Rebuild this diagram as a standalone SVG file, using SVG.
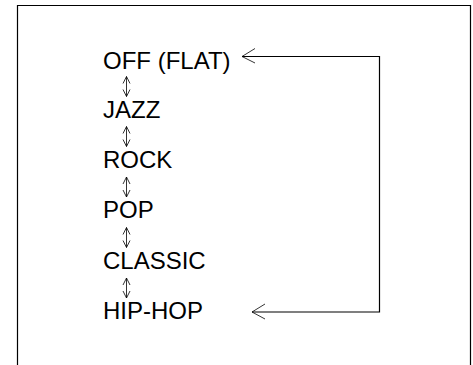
<svg xmlns="http://www.w3.org/2000/svg" width="473" height="365" viewBox="0 0 473 365">
<style>
.lbl{font-family:"Liberation Sans",Arial,sans-serif;font-size:24px;fill:#000}
.ln{fill:none;stroke:#000;stroke-width:1.2}
.da{fill:none;stroke:#000;stroke-width:0.8}
</style>
<defs>
<g id="dbl">
<path class="da" d="M0,0V20M-3.5,7L0,0L3.5,7M-3.5,13L0,20L3.5,13"/>
</g>
</defs>
<rect width="473" height="365" fill="#fff"/>
<path class="ln" d="M17.5,365V5.5H470.5V365"/>
<g id="n-off"><text class="lbl" x="103" y="69">OFF (FLAT)</text></g>
<g id="n-jazz"><text class="lbl" x="103" y="118">JAZZ</text></g>
<g id="n-rock"><text class="lbl" x="103" y="168">ROCK</text></g>
<g id="n-pop"><text class="lbl" x="103" y="218">POP</text></g>
<g id="n-classic"><text class="lbl" x="103" y="269">CLASSIC</text></g>
<g id="n-hiphop"><text class="lbl" x="103" y="319">HIP-HOP</text></g>
<g id="connectors">
<use href="#dbl" x="126.5" y="76.5"/>
<use href="#dbl" x="126.5" y="126.5"/>
<use href="#dbl" x="126.5" y="177"/>
<use href="#dbl" x="126.5" y="227.5"/>
<use href="#dbl" x="126.5" y="278"/>
<path class="ln" d="M242,56.5H379.5V312H252"/>
<path class="da" d="M255,48.5L242,56.5L255,63"/>
<path class="da" d="M265,304L252,312L265,319"/>
</g>
</svg>
